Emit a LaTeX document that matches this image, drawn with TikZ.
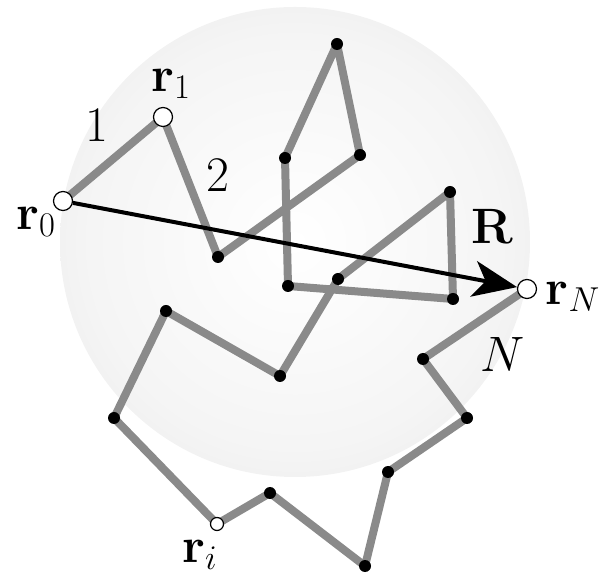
\documentclass[tikz,border=0pt]{standalone}
\usetikzlibrary{arrows.meta, backgrounds}
\definecolor{chaingray}{RGB}{138, 138, 138}
\definecolor{ballgray}{RGB}{218, 218, 218}
\pgfdeclareradialshading{ballfill}{\pgfpoint{0bp}{0bp}}{color(0bp)=(white); color(22bp)=(white!96!black); color(50bp)=(ballgray)}
\tikzset{
	ball/.style={shading=ballfill},
	chainline/.style={draw=chaingray, line width=4pt, line join=round, line cap=round},
	bead/.style={circle, fill=black, inner sep=0pt, minimum size=6pt},
	endbead/.style={circle, draw=black, fill=white, line width=0.6pt, inner sep=0pt, minimum size=9.5pt},
	midbead/.style={endbead, minimum size=6.5pt},
	vec/.style={-{Stealth[length=22pt, width=18pt, inset=6pt]}, line width=2pt},
	lbl/.style={font=\fontsize{26}{31}\selectfont, inner sep=0pt},
}

\begin{document}
\begin{tikzpicture}[x=0.5pt, y=-0.5pt]
	\useasboundingbox (0,0) rectangle (604,581);
	\node[endbead] (r0) at (63,201) {};
	\node[endbead] (r1) at (163,117) {};
	\node[bead] (v2) at (218,257) {};
	\node[bead] (v3) at (360,155) {};
	\node[bead] (v4) at (337,44) {};
	\node[bead] (v5) at (285,158) {};
	\node[bead] (v6) at (288,286) {};
	\node[bead] (v7) at (453,299) {};
	\node[bead] (v8) at (450,192) {};
	\node[bead] (v9) at (338,279) {};
	\node[bead] (v10) at (280,376) {};
	\node[bead] (v11) at (166,311) {};
	\node[bead] (v12) at (114,418) {};
	\node[midbead] (ri) at (217,524) {};
	\node[bead] (v14) at (270,493) {};
	\node[bead] (v15) at (365,566) {};
	\node[bead] (v16) at (388,472) {};
	\node[bead] (v17) at (467,418) {};
	\node[bead] (v18) at (423,359) {};
	\node[endbead] (rN) at (527,289) {};
	\begin{scope}[on background layer]
		\shade[ball] (295,242) circle[radius=117.5pt];
		\draw[chainline] (r0.center) \foreach \v in {r1,v2,v3,v4,v5,v6,v7,v8,v9,v10,v11,v12,ri,v14,v15,v16,v17,v18,rN} { -- (\v.center) };
	\end{scope}
	\draw[vec] (r0) -- (rN);
	\node[lbl] (lr0) at (36,222) {$\mathbf{r}_0$};
	\node[lbl] (lr1) at (171,84) {$\mathbf{r}_1$};
	\node[lbl] (lone) at (97,125) {$1$};
	\node[lbl] (ltwo) at (218,175) {$2$};
	\node[lbl] (lR) at (492,226) {$\mathbf{R}$};
	\node[lbl] (lrN) at (573,297) {$\mathbf{r}_N$};
	\node[lbl] (lN) at (503,355) {$N$};
	\node[lbl] (lri) at (200,555) {$\mathbf{r}_i$};
\end{tikzpicture}
\end{document}
